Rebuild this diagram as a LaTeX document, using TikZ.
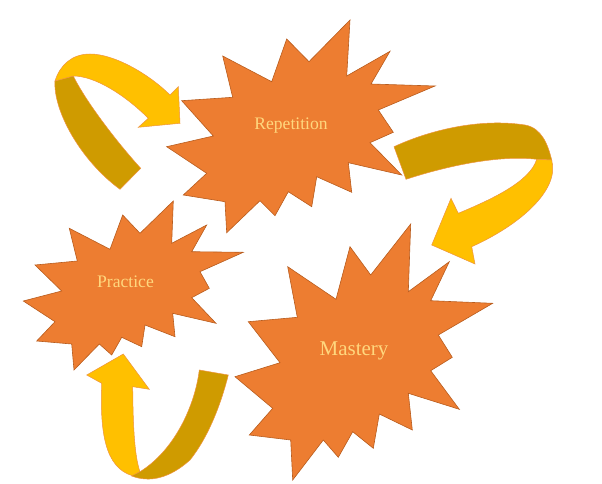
\documentclass[tikz,border=0pt]{standalone}
\usepackage{fontspec}
\setmainfont{Liberation Serif}
\usepackage{xcolor}
\usepackage{tikz}
\definecolor{burstfill}{HTML}{ED7D31}
\definecolor{burstline}{HTML}{B85C1E}
\definecolor{bandfront}{HTML}{FFC000}
\definecolor{bandback}{HTML}{CF9B00}
\definecolor{bandline}{HTML}{EE9440}
\definecolor{wordcol}{HTML}{FFD77E}

\begin{document}
\begin{tikzpicture}[x=1pt,y=-1pt,
  burst/.style={fill=burstfill,draw=burstline,line width=0.6pt,line join=miter},
  bandfront/.style={fill=bandfront,draw=bandline,line width=0.5pt},
  bandback/.style={fill=bandback,draw=bandline,line width=0.5pt},
  word/.style={text=wordcol,inner sep=0pt}]
\useasboundingbox (0,0) rectangle (602,484);
\draw[burst] (222.7,56) -- (271.7,81.7) -- (286.7,39) -- (309,61.7) -- (350,20) -- (346.7,76) -- (390,51.3) -- (371,84) -- (435,86) -- (378.3,110) -- (393.3,132.3) -- (370,142.7) -- (401.7,175) -- (348.3,162.7) -- (351.7,192.3) -- (316.7,176.7) -- (311.7,206.7) -- (288.3,191.7) -- (275,215.7) -- (260,200.7) -- (226.7,232.7) -- (225,201.7) -- (183.3,195) -- (206.7,173.3) -- (166.7,146.7) -- (213.3,136) -- (181.7,100.7) -- (232.7,97.3) -- cycle;
\draw[burst] (69.3,228.3) -- (110,249.3) -- (122.7,215) -- (140,233.3) -- (173.3,201) -- (171.7,243.3) -- (206.7,225) -- (191.7,251.7) -- (243.3,252.3) -- (200,271.7) -- (209.3,288.3) -- (191.7,297.7) -- (216,323.3) -- (172.7,313.3) -- (175,336.7) -- (145,325) -- (141.7,346.7) -- (121.7,337.3) -- (111.7,355) -- (99.3,344) -- (74,370) -- (71.7,344) -- (36.7,341) -- (55,321.7) -- (23.3,301) -- (61.7,291) -- (35,265) -- (77.3,261) -- cycle;
\draw[burst] (287.7,266.7) -- (336,299.3) -- (350,246.7) -- (370.7,275) -- (410.7,224) -- (408.3,291.7) -- (449.3,261.7) -- (430.7,300.7) -- (492.7,303.3) -- (438.3,335) -- (452.3,357.3) -- (430.7,370.7) -- (459.3,409.3) -- (408.3,393.3) -- (412.3,430) -- (379.3,414) -- (373.3,448.3) -- (352.7,431.7) -- (338.3,457.3) -- (323.3,440) -- (292.7,480) -- (290.7,440) -- (249.3,435) -- (272.7,408.3) -- (235,376.7) -- (280,362.7) -- (248.3,321.7) -- (297.3,317.3) -- cycle;
\node (rep) at (291,126) [word,font=\fontsize{17.6}{20}\selectfont] {Repetition};
\node (pra) at (125.5,281.5) [word,font=\fontsize{17.6}{20}\selectfont] {Practice};
\node (mas) at (354,351) [word,font=\fontsize{21}{24}\selectfont] {Mastery};
\draw[bandback] (120,189.3) -- (140.7,168.3) .. controls (115,140) and (85,100) .. (73.3,76) -- (55,81) .. controls (53,110) and (80,160) .. (120,189.3) -- cycle;
\draw[bandfront] (55,81) .. controls (60,65) and (72,54) .. (90,54) .. controls (115,54) and (150,75) .. (170,95) -- (178.3,86.7) -- (180,123.3) -- (138.3,127.3) -- (148.3,118.3) .. controls (125,95) and (95,76) .. (73.3,76) -- cycle;
\draw[bandback] (394,146.7) -- (406,179.3) .. controls (450,165) and (500,155) .. (536.7,159.3) -- (551.7,160) .. controls (548,145) and (542,128) .. (525,125) .. controls (480,118) and (430,130) .. (394,146.7) -- cycle;
\draw[bandfront] (551.7,160) .. controls (560,190) and (520,225) .. (471.7,246.7) -- (475,264) -- (431.7,245) -- (451,198.3) -- (458.3,213.3) .. controls (490,200) and (530,182) .. (536.7,159.3) -- cycle;
\draw[bandfront] (123.3,354) -- (149.3,389.3) -- (132.7,386.7) .. controls (133,420) and (134,455) .. (140,471.7) -- (133.3,476) .. controls (104,468) and (100,430) .. (101.7,383.3) -- (86.7,375) -- cycle;
\draw[bandback] (131.7,476) .. controls (150,483) and (170,478) .. (190,460) .. controls (210,435) and (222,400) .. (228.3,375) -- (199.3,370) .. controls (195,405) and (175,450) .. (140,471.7) -- cycle;
\end{tikzpicture}
\end{document}
